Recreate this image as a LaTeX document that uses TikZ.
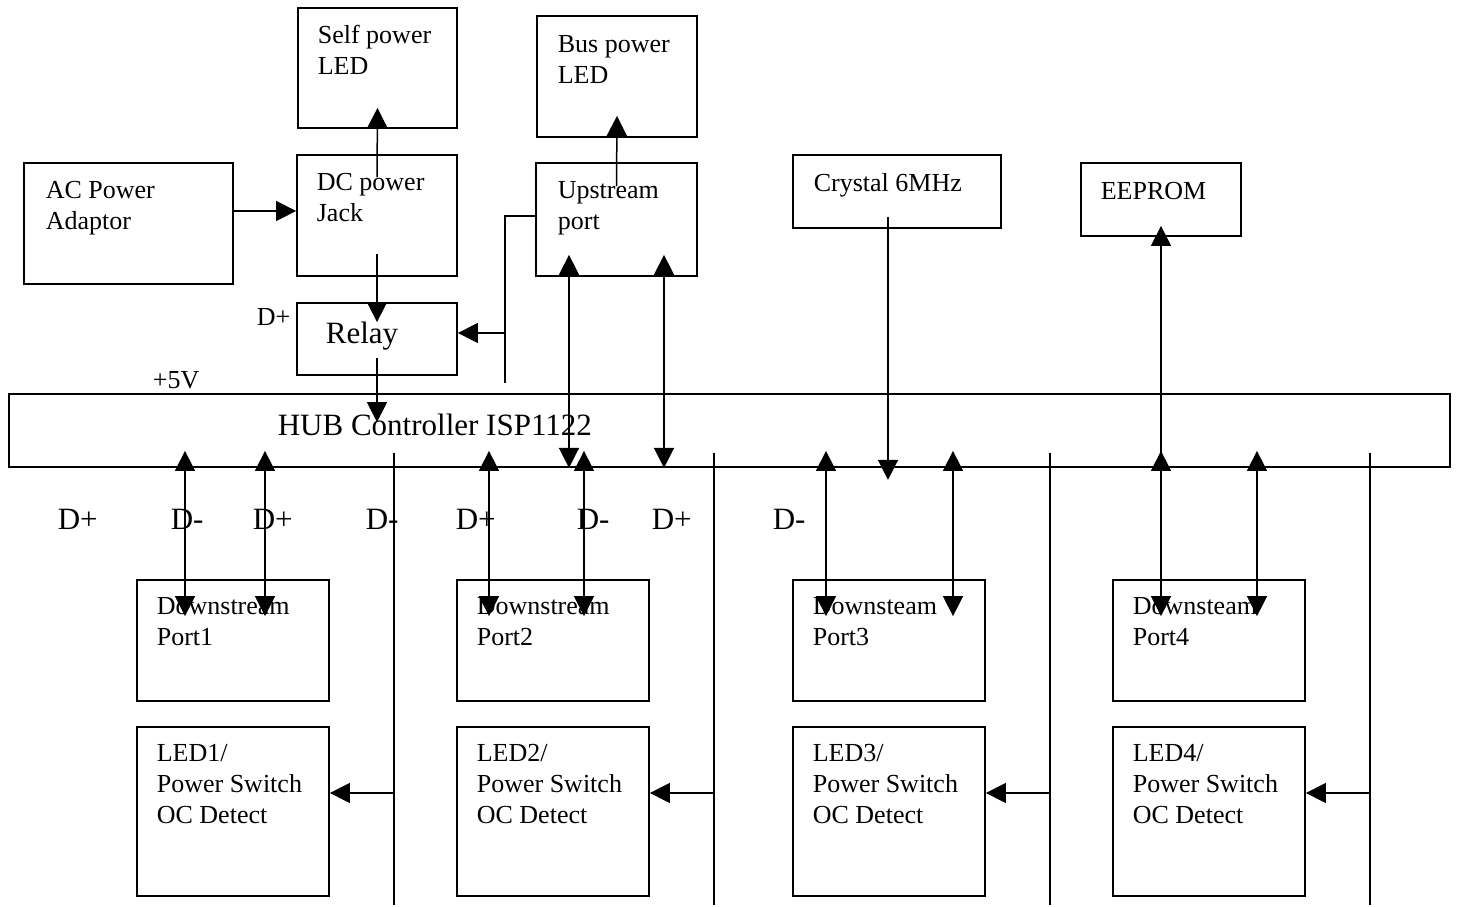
\documentclass[tikz,border=0pt]{standalone}
\usepackage{fontspec}
\setmainfont{Liberation Serif}
\usetikzlibrary{arrows.meta,calc}

\tikzset{
  blk/.style={draw, line width=1.8pt, inner sep=0pt},
  txt/.style={anchor=base west, inner sep=0pt, align=left,
    font=\fontsize{26}{31}\selectfont},
  bigtxt/.style={anchor=base west, inner sep=0pt,
    font=\fontsize{31}{36}\selectfont},
}

\begin{document}
\begin{tikzpicture}[x=1pt, y=-1pt, line width=1.5pt,
  >={Triangle[length=20pt,width=20pt]}]

  \useasboundingbox (0,0) rectangle (1457,907);

  % power side
  \node[blk, minimum width=159pt, minimum height=120pt] (selfled) at (377.5,68) {};
  \node[blk, minimum width=160pt, minimum height=121pt] (busled) at (617,76.5) {};
  \node[blk, minimum width=209pt, minimum height=121pt] (acpwr) at (128.5,223.5) {};
  \node[blk, minimum width=160pt, minimum height=121pt] (dcjack) at (377,215.5) {};
  \node[blk, minimum width=161pt, minimum height=113pt] (upstream) at (616.5,219.5) {};
  \node[blk, minimum width=208pt, minimum height=73pt] (crystal) at (897,191.5) {};
  \node[blk, minimum width=160pt, minimum height=73pt] (eeprom) at (1161,199.5) {};
  \node[blk, minimum width=160pt, minimum height=72pt] (relay) at (377,339) {};
  \node[blk, minimum width=1441pt, minimum height=73pt] (hub) at (729.5,430.5) {};

  % base of a two line text sits on its last line
  \node[txt] (selfledtxt) at ([shift={(20,67)}]selfled.north west) {Self power\\LED};
  \node[txt] (busledtxt) at ([shift={(21,68)}]busled.north west) {Bus power\\LED};
  \node[txt] (acpwrtxt) at ([shift={(22,67)}]acpwr.north west) {AC Power\\Adaptor};
  \node[txt] (dcjacktxt) at ([shift={(20,67)}]dcjack.north west) {DC power\\Jack};
  \node[txt] (upstreamtxt) at ([shift={(22,67)}]upstream.north west) {Upstream\\port};
  \node[txt] (crystaltxt) at ([shift={(21,37)}]crystal.north west) {Crystal 6MHz};
  \node[txt] (eepromtxt) at ([shift={(20,37)}]eeprom.north west) {EEPROM};
  \node[bigtxt] (relaytxt) at ([shift={(29,41)}]relay.north west) {Relay};
  \node[bigtxt] (hubtxt) at ([shift={(269,42)}]hub.north west) {HUB Controller ISP1122};
  \node[txt] (relaydp) at ([shift={(-40,23)}]relay.north west) {D+};
  \node[txt] (fivev) at ([shift={(144,-5)}]hub.north west) {+5V};

  % downstream ports
  \foreach \i/\xc/\word in {1/233/Downstream, 2/553/Downstream,
                            3/889/Downsteam, 4/1209/Downsteam} {
    \node[blk, minimum width=192pt, minimum height=121pt] (port\i) at (\xc,640.5) {};
    \node[blk, minimum width=192pt, minimum height=169pt] (led\i) at (\xc,811.5) {};
    \node[txt] (portlbl\i) at ([shift={(20,66)}]port\i.north west) {\word\\Port\i};
    \node[txt] (ledlbl\i) at ([shift={(20,97)}]led\i.north west)
      {LED\i/\\Power Switch\\OC Detect};
    \coordinate (bus\i) at ($(led\i.east)+(64,-18.5)$);
  }

  \foreach \xd/\sg [count=\n] in {57/+, 170/-, 252/+, 365/-, 455/+, 576/-, 651/+, 772/-}
    \node[bigtxt] (dlbl\n) at (\xd,529) {D\sg};

  % connectors
  \draw[->] ([yshift=12.5pt]acpwr.east) -- ([yshift=4.5pt]dcjack.west);
  \draw[->] ($(dcjack.south)+(0,-23)$) -- ($(relay.north)+(0,20)$);
  \draw[->] ($(dcjack.north)+(0,23)$) -- ($(selfled.south)+(0,-21)$);
  \draw[->] ($(upstream.north)+(0,24)$) -- ($(busled.south)+(0,-22)$);
  \draw[->] ($(relay.south)+(0,-18)$) -- ($(relay.south |- hub.north)+(0,29)$);

  \coordinate (tap) at (505,333);
  \draw ([yshift=3.5pt]upstream.west) -| (tap) -- ($(tap)+(0,50)$);
  \draw[->] (tap) -- (tap -| relay.east);

  \foreach \dx in {-47.5,47.5}
    \draw[<->] ($(upstream.south)+(\dx,-22)$) -- ($(upstream.south |- hub.south)+(\dx,0)$);

  \draw[->] ($(crystal.south)+(-9,-12)$) -- ($(crystal.south |- hub.south)+(-9,12)$);
  \draw[->] (eeprom.south |- hub.south) -- ($(eeprom.south)+(0,-11)$);

  \foreach \i/\da/\db in {1/-48/32, 2/-64/31, 3/-63/64, 4/-48/48} {
    \draw[<->] ($(port\i.north |- hub.south)+(\da,-17)$) -- ($(port\i.north)+(\da,37)$);
    \draw[<->] ($(port\i.north |- hub.south)+(\db,-17)$) -- ($(port\i.north)+(\db,37)$);
    \draw ($(bus\i |- hub.south)+(0,-15)$) -- ($(bus\i)+(0,112)$);
    \draw[->] (bus\i) -- (bus\i -| led\i.east);
  }

\end{tikzpicture}
\end{document}
